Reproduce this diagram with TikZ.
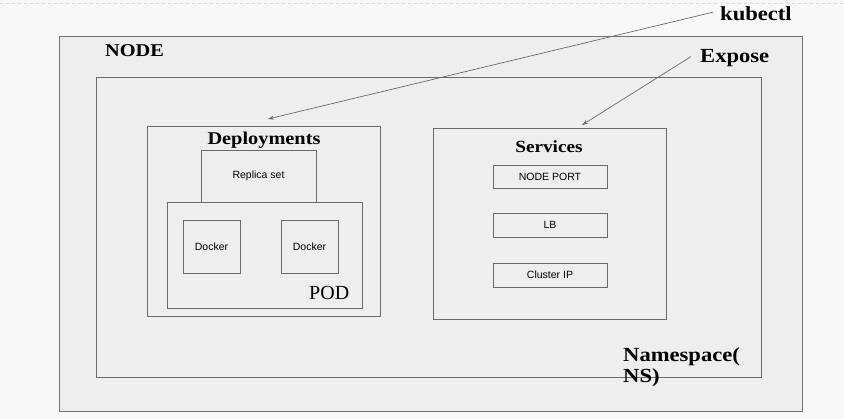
\documentclass[tikz,border=0pt]{standalone}
\usepackage{fontspec}
\setmainfont{Liberation Serif}
\newfontfamily\hdr[FakeStretch=1.13]{Liberation Serif Bold}
\newfontfamily\lbl{Liberation Sans}
\usetikzlibrary{arrows.meta}
\definecolor{boxfill}{HTML}{EEEEEE}
\definecolor{boxline}{HTML}{6A6A6A}
\definecolor{bg}{HTML}{F8F8F8}
\tikzset{
  box/.style={draw=boxline, fill=boxfill, line width=0.9pt},
  hdrtxt/.style={font=\hdr\fontsize{#1}{#1}\selectfont, inner sep=0pt},
  smalltxt/.style={font=\lbl\fontsize{10.5}{12}\selectfont, inner sep=0pt},
  ptr/.style={draw=boxline, line width=0.7pt, -{Stealth[length=6pt,width=4pt]}}
}
\begin{document}
\begin{tikzpicture}[x=1pt,y=-1pt]
\fill[bg] (0,0) rectangle (844,419);
\useasboundingbox (0,0) rectangle (844,419);
\draw[draw=black!15, dashed, line width=0.6pt] (0,3) -- (844,3);
% outer boxes
\draw[box, draw=black!55] (59,36) rectangle (802,411);
\draw[box] (96,77) rectangle (761,377);
% deployments
\draw[box] (147,126) rectangle (380,316);
\node[box, minimum width=115pt, minimum height=52pt, inner sep=0pt, smalltxt] (rs) at (258.5,176) {Replica set};
\draw[box] (167,202) rectangle (362,308);
\node[box, minimum width=57pt, minimum height=53pt, inner sep=0pt, smalltxt] (d1) at (211.5,246.5) {Docker};
\node[box, minimum width=57pt, minimum height=53pt, inner sep=0pt, smalltxt] (d2) at (309.5,246.5) {Docker};
% services
\draw[box] (433,128) rectangle (666,319);
\node[box, minimum width=114pt, minimum height=23pt, inner sep=0pt, smalltxt] (np) at (550,176.5) {NODE PORT};
\node[box, minimum width=114pt, minimum height=24pt, inner sep=0pt, smalltxt] (lb) at (550,225) {LB};
\node[box, minimum width=114pt, minimum height=24pt, inner sep=0pt, smalltxt] (cip) at (550,275) {Cluster IP};
% labels
\node[hdrtxt=18, anchor=base west] (nodelbl) at (105,57) {NODE};
\node[hdrtxt=18, anchor=base] (deplbl) at (264,145) {Deployments};
\node[hdrtxt=17, anchor=base] (svclbl) at (549,153) {Services};
\node[font=\fontsize{20}{20}\selectfont, inner sep=0pt, anchor=base west] (podlbl) at (309,300) {POD};
\node[hdrtxt=20, anchor=base west] (kub) at (720,21) {kubectl};
\node[hdrtxt=20, anchor=base west] (exp) at (700,63) {Expose};
\node[hdrtxt=20, anchor=base west] (ns1) at (623,362) {Namespace(};
\node[hdrtxt=20, anchor=base west] (ns2) at (623,383) {NS)};
% arrows
\coordinate (kubend) at (268,119);
\coordinate (expend) at (582,125);
\draw[ptr] (kub.west) ++(-7,-2) -- (kubend);
\draw[ptr] (exp.west) ++(-9,-2) -- (expend);
\end{tikzpicture}
\end{document}
